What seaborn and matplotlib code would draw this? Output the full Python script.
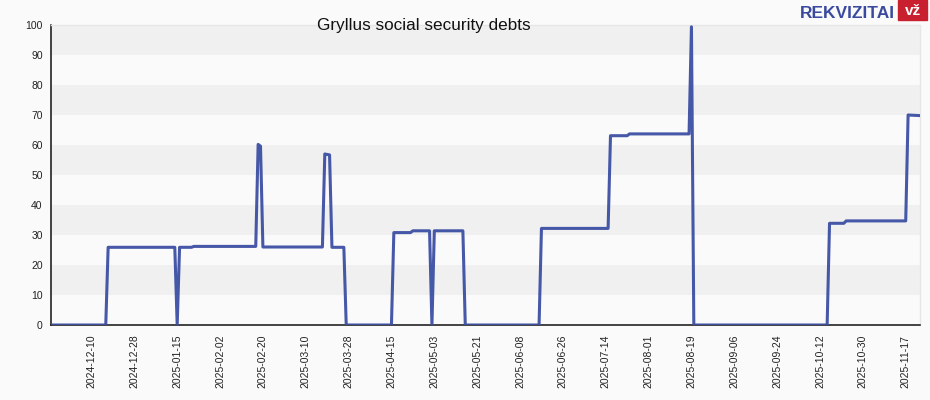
import matplotlib
matplotlib.use("Agg")
import matplotlib.pyplot as plt
from matplotlib.patches import Rectangle
import seaborn as sns
import pandas as pd

# ---- data (vertices of the debt curve) ----
dates = [
    "2024-11-23", "2024-12-16", "2024-12-17", "2025-01-14", "2025-01-15",
    "2025-01-16", "2025-01-21", "2025-01-22", "2025-02-17", "2025-02-18",
    "2025-02-19", "2025-02-20", "2025-03-17", "2025-03-18", "2025-03-20",
    "2025-03-21", "2025-03-26", "2025-03-27", "2025-04-15", "2025-04-16",
    "2025-04-23", "2025-04-24", "2025-05-01", "2025-05-02", "2025-05-03",
    "2025-05-15", "2025-05-16", "2025-06-16", "2025-06-17", "2025-07-15",
    "2025-07-16", "2025-07-23", "2025-07-24", "2025-08-18", "2025-08-19",
    "2025-08-20", "2025-10-15", "2025-10-16", "2025-10-22", "2025-10-23",
    "2025-11-17", "2025-11-18", "2025-11-23",
]
debts = [
    0.0, 0.0, 25.9, 25.9, 0.0,
    25.9, 25.9, 26.2, 26.2, 60.2,
    59.6, 26.0, 26.0, 57.0, 56.7,
    25.9, 25.9, 0.0, 0.0, 30.8,
    30.8, 31.4, 31.4, 0.0, 31.4,
    31.4, 0.0, 0.0, 32.2, 32.2,
    63.1, 63.1, 63.7, 63.7, 99.4,
    0.0, 0.0, 33.9, 33.9, 34.7,
    34.7, 70.0, 69.8,
]
tick_dates = [
    "2024-12-10", "2024-12-28", "2025-01-15", "2025-02-02", "2025-02-20",
    "2025-03-10", "2025-03-28", "2025-04-15", "2025-05-03", "2025-05-21",
    "2025-06-08", "2025-06-26", "2025-07-14", "2025-08-01", "2025-08-19",
    "2025-09-06", "2025-09-24", "2025-10-12", "2025-10-30", "2025-11-17",
]
y_ticks = [0, 10, 20, 30, 40, 50, 60, 70, 80, 90, 100]
title = "Gryllus social security debts"

df = pd.DataFrame({"date": pd.to_datetime(dates), "debt": debts})

sns.set_style("white")
plt.rcParams["font.family"] = ["Liberation Sans", "DejaVu Sans"]

BG = "#fafafa"
BAND = "#f0f0f0"
LINE = "#3c4fa3"

fig = plt.figure(figsize=(9.3, 4.0), dpi=100, facecolor=BG)
ax = fig.add_axes([51 / 930, 75 / 400, 869 / 930, 300 / 400])
ax.set_facecolor(BG)

# alternating horizontal bands
for lo in range(10, 100, 20):
    ax.axhspan(lo, lo + 10, color=BAND, lw=0, zorder=0)

sns.lineplot(data=df, x="date", y="debt", ax=ax, color=LINE, lw=2.2,
             alpha=0.95, zorder=3, estimator=None)

ax.set_xlim(pd.Timestamp(dates[0]), pd.Timestamp(dates[-1]))
ax.set_ylim(0, 100)
ax.set_yticks(y_ticks)
ax.set_yticklabels([str(v) for v in y_ticks])
ax.set_xticks(pd.to_datetime(tick_dates))
ax.set_xticklabels(tick_dates, rotation=90)
ax.set_xlabel("")
ax.set_ylabel("")

ax.tick_params(axis="both", labelsize=7.5, colors="#222222", length=4,
               width=1, direction="out", pad=2)
ax.tick_params(axis="x", pad=3)
for s in ["left", "bottom"]:
    ax.spines[s].set_color("#111111")
    ax.spines[s].set_linewidth(1.1)
for s in ["top", "right"]:
    ax.spines[s].set_color("#e6e6e6")
    ax.spines[s].set_linewidth(1.0)

fig.text(317 / 930, 1 - 30 / 400, title, fontsize=12.3, color="#111111",
         ha="left", va="baseline")

# logo
fig.text(800 / 930, 1 - 18 / 400, "REKVIZITAI", fontsize=12.5, fontweight="bold",
         color="#3a4a9e", ha="left", va="baseline")
fig.patches.append(Rectangle((898 / 930, 1 - 20 / 400), 29 / 930, 20 / 400,
                             transform=fig.transFigure, color="#c8202e", zorder=5))
fig.text(912.5 / 930, 1 - 15 / 400, "vž", fontsize=11, fontweight="bold",
         color="white", ha="center", va="baseline", zorder=6)

fig.savefig("out.png", dpi=100, facecolor=BG)
